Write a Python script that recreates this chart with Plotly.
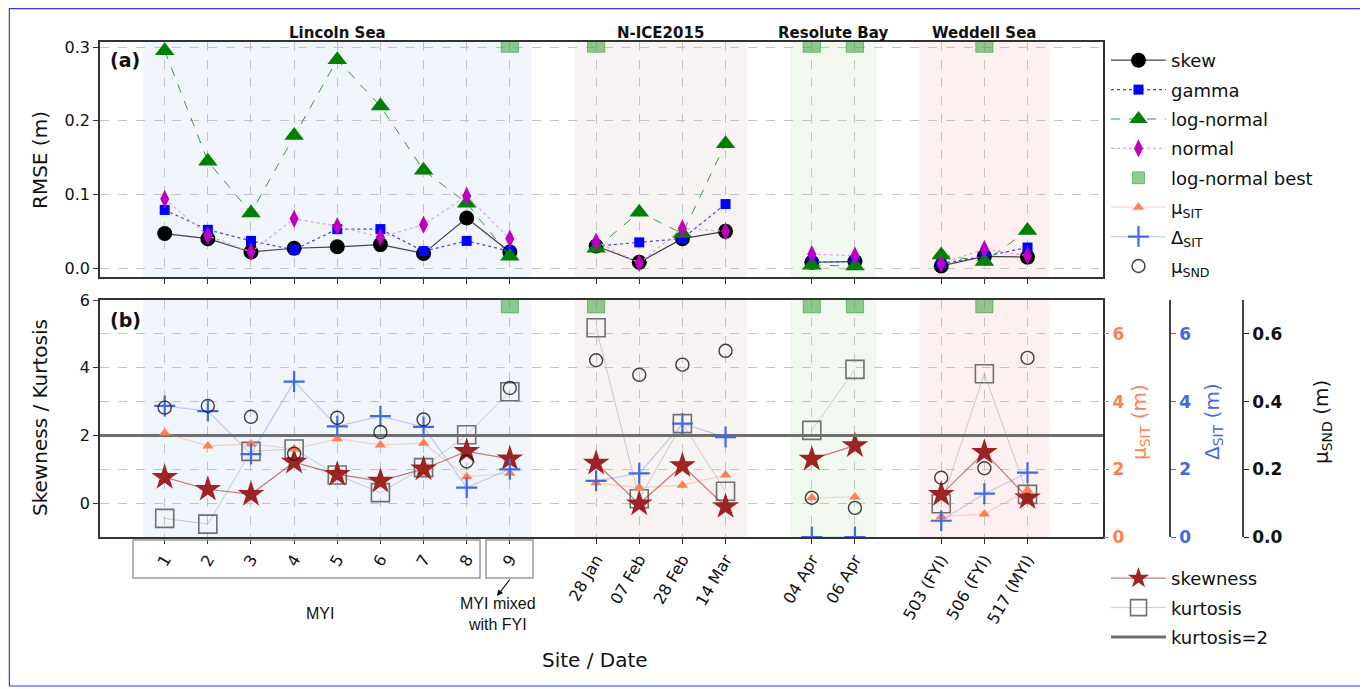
import plotly.graph_objects as go

# ── Data ──
groups = ["Lincoln Sea", "N-ICE2015", "Resolute Bay", "Weddell Sea"]
group_sites = [
    ["1", "2", "3", "4", "5", "6", "7", "8", "9"],
    ["28 Jan", "07 Feb", "28 Feb", "14 Mar"],
    ["04 Apr", "06 Apr"],
    ["503 (FYI)", "506 (FYI)", "517 (MYI)"],
]

# panel (a) RMSE (m)
rmse_skew = [0.047, 0.040, 0.022, 0.027, 0.029, 0.032, 0.020, 0.068, 0.022,
             0.030, 0.008, 0.040, 0.050, 0.008, 0.009, 0.003, 0.016, 0.015]
rmse_gamma = [0.079, 0.052, 0.037, 0.025, 0.053, 0.053, 0.023, 0.037, 0.023,
              0.030, 0.035, 0.040, 0.087, 0.008, 0.009, 0.006, 0.016, 0.028]
rmse_lognormal = [0.295, 0.145, 0.075, 0.180, 0.283, 0.220, 0.133, 0.088, 0.016,
                  0.027, 0.076, 0.047, 0.169, 0.004, 0.003, 0.018, 0.009, 0.051]
rmse_normal = [0.094, 0.044, 0.022, 0.067, 0.057, 0.042, 0.059, 0.098, 0.040,
               0.036, 0.007, 0.054, 0.050, 0.019, 0.017, 0.006, 0.026, 0.017]
lognormal_best = ["9", "28 Jan", "04 Apr", "06 Apr", "506 (FYI)"]

# panel (b)
skewness = [0.76, 0.41, 0.26, 1.21, 0.85, 0.65, 1.01, 1.53, 1.31,
            1.18, -0.02, 1.11, -0.10, 1.30, 1.70, 0.26, 1.50, 0.16]
kurtosis = [-0.45, -0.62, 1.53, 1.60, 0.83, 0.31, 1.05, 2.02, 3.29,
            5.18, 0.13, 2.35, 0.35, 2.15, 3.95, -0.02, 3.82, 0.26]
mu_sit = [3.07, 2.69, 2.75, 2.60, 2.90, 2.72, 2.77, 1.78, 1.88,
          1.60, 1.46, 1.53, 1.83, 1.16, 1.18, 0.60, 0.68, 1.38]
delta_sit = [3.87, 3.72, 2.45, 4.59, 3.27, 3.57, 3.25, 1.46, 2.00,
             1.66, 1.88, 3.35, 2.95, 0.00, 0.00, 0.48, 1.28, 1.90]
mu_snd = [0.382, 0.387, 0.355, 0.246, 0.352, 0.310, 0.347, 0.223, 0.440,
          0.522, 0.479, 0.509, 0.550, 0.116, 0.086, 0.175, 0.203, 0.529]
kurtosis_ref = 2

FONT = "DejaVu Sans"
W, H = 1368, 689
OFF = 8  # page body margin

# ── x positions: one empty slot between site groups ──
sites, xpos, group_of = [], [], []
p = 0
for g, names in enumerate(group_sites):
    for n in names:
        p += 1
        sites.append(n)
        xpos.append(p)
        group_of.append(g)
    p += 1
group_span = []
for g in range(len(groups)):
    xs = [x for x, gg in zip(xpos, group_of) if gg == g]
    group_span.append((min(xs) - 0.5, max(xs) + 0.5))

X_RANGE = [-0.5, 22.75]


def broken(vals):
    """Insert None between groups so lines do not join across regions."""
    xs, ys = [], []
    for i, (x, v) in enumerate(zip(xpos, vals)):
        if i > 0 and group_of[i] != group_of[i - 1]:
            xs.append(None)
            ys.append(None)
        xs.append(x)
        ys.append(v)
    return xs, ys


def px_x(v):
    return (v - OFF) / W


def px_y(v):
    return 1 - (v - OFF) / H


dom_x = [px_x(100), px_x(1103)]
dom_a = [px_y(277), px_y(42)]
dom_b = [px_y(537), px_y(300)]

fig = go.Figure()

# ── panel (a) ──
a_series = [
    ("skew", rmse_skew, "black", "circle", 15, "#444444", "solid", 1.2),
    ("gamma", rmse_gamma, "#0000ff", "square", 10, "#4040ff", "dot", 1.2),
    ("log-normal", rmse_lognormal, "#008000", "triangle-up", 17, "#3a9a3a", "dash", 1.0),
    ("normal", rmse_normal, "#c000c0", "diamond-tall", 13, "#e6a0e6", "dot", 1.2),
]
for rank, (name, vals, col, sym, size, lcol, dash, lw) in enumerate(a_series):
    xs, ys = broken(vals)
    fig.add_trace(go.Scatter(
        x=xs, y=ys, mode="lines+markers", name=name,
        line=dict(color=lcol, width=lw, dash=dash),
        marker=dict(color=col, symbol=sym, size=size, line=dict(width=0)),
        xaxis="x", yaxis="y", legend="legend", legendgroup=name, legendrank=rank + 1,
    ))

best_x = [xpos[sites.index(s)] for s in lognormal_best]
fig.add_trace(go.Bar(
    x=best_x, y=[0.05] * len(best_x), base=0.293, width=0.4,
    marker=dict(color="rgba(60,160,60,0.55)", line=dict(color="rgba(0,128,0,0.4)", width=1)),
    name="log-normal best", xaxis="x", yaxis="y", legend="legend",
    legendgroup="best", legendrank=5,
))
fig.add_trace(go.Bar(
    x=best_x, y=[1.0] * len(best_x), base=5.62, width=0.4,
    marker=dict(color="rgba(60,160,60,0.55)", line=dict(color="rgba(0,128,0,0.4)", width=1)),
    showlegend=False, xaxis="x2", yaxis="y2",
))

# ── panel (b) ──
xs, ys = broken(kurtosis)
fig.add_trace(go.Scatter(
    x=xs, y=ys, mode="lines+markers", name="kurtosis",
    line=dict(color="rgba(150,150,150,0.45)", width=1),
    marker=dict(symbol="square-open", size=18, color="#707070", line=dict(width=1.6)),
    xaxis="x2", yaxis="y2", legend="legend2", legendgroup="kurt", legendrank=2,
))
xs, ys = broken(skewness)
fig.add_trace(go.Scatter(
    x=xs, y=ys, mode="lines+markers", name="skewness",
    line=dict(color="rgba(160,40,40,0.6)", width=1.2),
    marker=dict(symbol="star", size=20, color="#9e2323", line=dict(width=0)),
    xaxis="x2", yaxis="y2", legend="legend2", legendgroup="skewness", legendrank=1,
))
fig.add_trace(go.Scatter(
    x=X_RANGE, y=[kurtosis_ref, kurtosis_ref], mode="lines", name="kurtosis=2",
    line=dict(color="#6e6e6e", width=3),
    xaxis="x2", yaxis="y2", legend="legend2", legendgroup="kref", legendrank=3,
))

xs, ys = broken(mu_sit)
fig.add_trace(go.Scatter(
    x=xs, y=ys, mode="lines+markers", name="μ<sub>SIT</sub>",
    line=dict(color="rgba(255,127,80,0.3)", width=1.2),
    marker=dict(symbol="triangle-up", size=10, color="#ff7f50", line=dict(width=0)),
    xaxis="x2", yaxis="y3", legend="legend", legendgroup="musit", legendrank=6,
))
xs, ys = broken(delta_sit)
fig.add_trace(go.Scatter(
    x=xs, y=ys, mode="lines+markers", name="Δ<sub>SIT</sub>",
    line=dict(color="rgba(65,105,225,0.3)", width=1.2),
    marker=dict(symbol="cross-thin", size=15, color="#4169e1",
                line=dict(width=2.2, color="#4169e1")),
    xaxis="x2", yaxis="y4", legend="legend", legendgroup="dsit", legendrank=7,
))
fig.add_trace(go.Scatter(
    x=xpos, y=mu_snd, mode="markers", name="μ<sub>SND</sub>",
    marker=dict(symbol="circle-open", size=13, color="rgba(30,30,30,0.85)",
                line=dict(width=1.4)),
    xaxis="x2", yaxis="y5", legend="legend", legendgroup="musnd", legendrank=8,
))

# ── region shading and labels ──
shade = ["rgba(31,119,180,0.07)", "rgba(140,86,75,0.07)",
         "rgba(44,160,44,0.07)", "rgba(214,39,40,0.07)"]
shapes = []
annotations = []
for g, (x0, x1) in enumerate(group_span):
    for yr in ["y domain", "y2 domain"]:
        shapes.append(dict(type="rect", xref="x", yref=yr, x0=x0, x1=x1, y0=0, y1=1,
                           fillcolor=shade[g], line=dict(width=0), layer="below"))
    annotations.append(dict(x=(x0 + x1) / 2, y=px_y(33), xref="x", yref="paper",
                            xanchor="center", yanchor="middle",
                            text=f"<b>{groups[g]}</b>", showarrow=False,
                            font=dict(family=FONT, size=15, color="#111")))

# boxes around site tick labels
shapes.append(dict(type="rect", xref="paper", yref="paper", x0=px_x(133), x1=px_x(480),
                   y0=px_y(578), y1=px_y(540), line=dict(color="#9a9a9a", width=1.5)))
shapes.append(dict(type="rect", xref="paper", yref="paper", x0=px_x(486), x1=px_x(533),
                   y0=px_y(578), y1=px_y(540), line=dict(color="#9a9a9a", width=1.5)))
# outer frame
shapes.append(dict(type="rect", xref="paper", yref="paper", x0=0.001, x1=px_x(1363),
                   y0=px_y(686), y1=0.999, line=dict(color="#2b3bff", width=1.2)))


def note(x, y, text, size=16, color="#111", family=FONT, angle=0, xanchor="center"):
    return dict(x=px_x(x), y=px_y(y), xref="paper", yref="paper", text=text,
                xanchor=xanchor, yanchor="middle", textangle=angle, showarrow=False,
                font=dict(family=family, size=size, color=color))


annotations += [
    note(108, 60, "<b>(a)</b>", size=19, xanchor="left"),
    note(108, 320, "<b>(b)</b>", size=19, xanchor="left"),
    note(320, 613, "MYI", family="Liberation Sans"),
    note(498, 614, "MYI mixed<br>with FYI", family="Liberation Sans"),
    note(595, 660, "Site / Date", size=20),
    note(40, 160, "RMSE (m)", size=20, angle=-90),
    note(40, 418, "Skewness / Kurtosis", size=20, angle=-90),
    note(1140, 422, "μ<sub>SIT</sub> (m)", size=20, color="#ff7f50", angle=-90),
    note(1213, 422, "Δ<sub>SIT</sub> (m)", size=20, color="#4169e1", angle=-90),
    note(1322, 422, "μ<sub>SND</sub> (m)", size=20, angle=-90),
    dict(x=px_x(497), y=px_y(596), xref="paper", yref="paper", text="",
         ax=14, ay=-18, showarrow=True, arrowhead=2, arrowsize=1, arrowwidth=1.2,
         arrowcolor="#111"),
]

grid = dict(showgrid=True, gridcolor="#c4c4c4", griddash="dash", gridwidth=1, zeroline=False,
            automargin=False)
frame = dict(showline=True, linecolor="#333333", linewidth=1.6, mirror=True)

fig.update_layout(
    width=W, height=H,
    margin=dict(l=0, r=0, t=0, b=0, pad=0, autoexpand=False),
    paper_bgcolor="white", plot_bgcolor="white",
    font=dict(family=FONT, size=16, color="#111"),
    barmode="overlay",
    xaxis=dict(domain=dom_x, anchor="y", range=X_RANGE, tickvals=xpos, ticktext=[""] * len(xpos),
               ticks="outside", ticklen=5, tickcolor="#333", **grid, **frame),
    yaxis=dict(domain=dom_a, anchor="x", range=[-0.012, 0.307],
               tickvals=[0, 0.1, 0.2, 0.3], ticktext=["0.0", "0.1", "0.2", "0.3"],
               ticks="outside", ticklen=5, tickcolor="#333", tickfont=dict(size=16),
               **grid, **frame),
    xaxis2=dict(domain=dom_x, anchor="y2", range=X_RANGE, tickvals=xpos, ticktext=sites,
                tickangle=-60, ticks="outside", ticklen=5, tickcolor="#333",
                tickfont=dict(size=16), **grid, **frame),
    yaxis2=dict(domain=dom_b, anchor="x2", range=[-1, 6], tickvals=[0, 2, 4, 6],
                ticks="outside", ticklen=5, tickcolor="#333", tickfont=dict(size=16),
                **grid, **frame),
    yaxis3=dict(overlaying="y2", anchor="x2", side="right", range=[0, 7],
                tickvals=[0, 2, 4, 6], ticks="outside", ticklen=5, tickcolor="#ff7f50",
                tickfont=dict(size=17, color="#ff7f50", family=FONT, weight="bold"),
                showgrid=True, gridcolor="#c4c4c4", griddash="dash", zeroline=False,
                showline=False, automargin=False),
    yaxis4=dict(overlaying="y2", anchor="free", position=px_x(1170), side="right",
                range=[0, 7], tickvals=[0, 2, 4, 6], ticks="outside", ticklen=5,
                tickcolor="#4169e1",
                tickfont=dict(size=17, color="#4169e1", family=FONT, weight="bold"),
                showgrid=False, zeroline=False, showline=True, linecolor="#444", linewidth=1.6,
                automargin=False),
    yaxis5=dict(overlaying="y2", anchor="free", position=px_x(1243), side="right",
                range=[0, 0.7], tickvals=[0, 0.2, 0.4, 0.6],
                ticktext=["0.0", "0.2", "0.4", "0.6"], ticks="outside", ticklen=5,
                tickcolor="#222",
                tickfont=dict(size=17, color="#111", family=FONT, weight="bold"),
                showgrid=False, zeroline=False, showline=True, linecolor="#444", linewidth=1.6,
                automargin=False),
    legend=dict(x=px_x(1106), y=px_y(42), xanchor="left", yanchor="top",
                bgcolor="rgba(0,0,0,0)", font=dict(family=FONT, size=18),
                tracegroupgap=3, itemwidth=55),
    legend2=dict(x=px_x(1106), y=px_y(560), xanchor="left", yanchor="top",
                 bgcolor="rgba(0,0,0,0)", font=dict(family=FONT, size=18),
                 tracegroupgap=3, itemwidth=55),
    shapes=shapes,
    annotations=annotations,
)

fig.write_html("out.html")
